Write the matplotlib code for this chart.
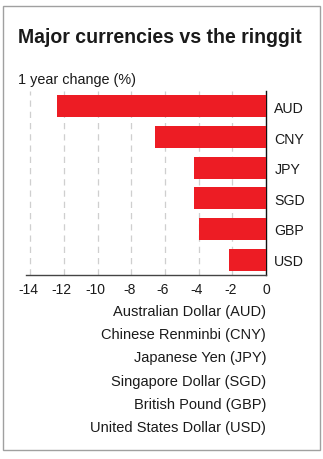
import matplotlib
matplotlib.use("Agg")
import matplotlib.pyplot as plt
import matplotlib.transforms as mtransforms
from matplotlib.patches import Rectangle

# One-year change of major currencies against the ringgit (%)
codes = ["AUD", "CNY", "JPY", "SGD", "GBP", "USD"]
names = ["Australian Dollar", "Chinese Renminbi", "Japanese Yen",
         "Singapore Dollar", "British Pound", "United States Dollar"]
changes = [-12.4, -6.6, -4.3, -4.25, -3.95, -2.2]
xticks = [-14, -12, -10, -8, -6, -4, -2, 0]

W, H = 323, 460
plt.rcParams["font.family"] = ["Liberation Sans", "DejaVu Sans"]

fig = plt.figure(figsize=(W / 100, H / 100), dpi=100)
fig.patch.set_facecolor("white")

def fx(px):
    return px / W

def fy(py):
    return 1 - py / H

# outer frame
fig.add_artist(Rectangle((fx(3), fy(451)), fx(317), (451 - 7) / H,
                         transform=fig.transFigure, fill=False,
                         edgecolor="#a0a0a0", linewidth=1.0))

title = fig.text(fx(18), fy(43), "Major currencies vs the ringgit",
                 family="Liberation Sans", weight="bold",
                 fontsize=16, color="#1a1a1a", va="baseline", ha="left")
# fit the title into the frame width
renderer = fig.canvas.get_renderer()
tw = title.get_window_extent(renderer).width
title.set_fontsize(16 * 284 / tw)

fig.text(fx(18), fy(84), "1 year change (%)", fontsize=10.4,
         color="#1a1a1a", va="baseline", ha="left")

ax = fig.add_axes([fx(26), fy(276), fx(240), (276 - 92) / H])
ypos = list(range(len(codes)))
ax.barh(ypos, changes, height=0.71, color="#ED1C24", zorder=3)
ax.set_xlim(-14.25, 0)
ax.set_ylim(len(codes) - 0.5, -0.5)

ax.set_xticks(xticks)
ax.set_xticklabels([str(t) for t in xticks], fontsize=10, color="#1a1a1a")
ax.set_yticks(ypos)
ax.set_yticklabels(codes, fontsize=10.2, color="#1a1a1a")
ax.yaxis.tick_right()
ax.tick_params(axis="both", length=0)
ax.tick_params(axis="x", pad=5)
ax.tick_params(axis="y", pad=6)

# nudge the negative tick labels slightly left of their gridlines
shift = mtransforms.ScaledTranslation(-2 / 100, 0, fig.dpi_scale_trans)
for lab, t in zip(ax.get_xticklabels(), xticks):
    if t < 0:
        lab.set_transform(lab.get_transform() + shift)

for t in xticks[:-1]:
    ax.axvline(t, color="#cfcfcf", linewidth=0.9, linestyle=(0, (5, 4)),
               zorder=1)

for side in ("left", "top"):
    ax.spines[side].set_visible(False)
ax.spines["right"].set_color("#111111")
ax.spines["right"].set_linewidth(1.0)
ax.spines["bottom"].set_color("#444444")
ax.spines["bottom"].set_linewidth(1.0)
ax.set_facecolor("none")

# key of currency names below the axis
for i, (name, code) in enumerate(zip(names, codes)):
    fig.text(fx(266), fy(312 + i * 23.2), f"{name} ({code})", fontsize=10.5,
             color="#1a1a1a", ha="right", va="center")

fig.savefig("out.png", dpi=100, facecolor="white")
